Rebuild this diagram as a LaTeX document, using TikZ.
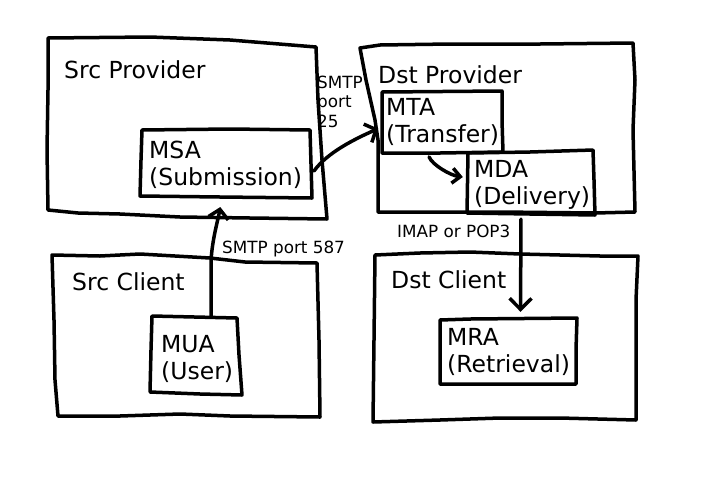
\documentclass[tikz,border=0pt]{standalone}
\usepackage{fontspec}
\setmainfont{DejaVu Sans}
\usetikzlibrary{arrows.meta}
\begin{document}
\begin{tikzpicture}[x=1pt,y=-1pt,
  hand/.style={line width=3.5pt, line join=round, line cap=round},
  area/.style={draw=none, inner sep=0pt, minimum width=#1},
  big/.style={font=\fontsize{23.5}{27}\selectfont, inner sep=0pt, anchor=base west, align=left},
  small/.style={font=\fontsize{16.8}{19.5}\selectfont, inner sep=0pt, anchor=base west, align=left},
  conn/.style={line width=3.5pt, line cap=round, line join=round, -{Straight Barb[length=9pt,width=20pt]}},
]
\useasboundingbox[fill=white] (0,0) rectangle (720,480);

% invisible areas (named) for the boxes
\node[area=277pt, minimum height=180pt] (srcprov) at (186.5,128) {};
\node[area=268pt, minimum height=162pt] (srccli) at (186,336) {};
\node[area=275pt, minimum height=167pt] (dstprov) at (497.5,128.5) {};
\node[area=263pt, minimum height=168pt] (dstcli) at (505.5,337) {};
\node[area=172pt, minimum height=67pt] (msa) at (226,163.5) {};
\node[area=121pt, minimum height=62pt] (mta) at (442.5,122) {};
\node[area=128pt, minimum height=63pt] (mda) at (531,182.5) {};
\node[area=92pt, minimum height=78pt] (mua) at (196,355) {};
\node[area=137pt, minimum height=66pt] (mra) at (508.5,351) {};

% hand-drawn outlines
\draw[hand] (48,38) -- (150,37) -- (230,40) -- (316,47) -- (318,100) -- (322,160) -- (327,219)
  -- (250,218) -- (180,217) -- (120,214) -- (78,213) -- (48,210) -- (47,150) -- (48,90) -- cycle;
\draw[hand] (142,130) -- (230,129) -- (310,130) -- (312,198) -- (220,197) -- (140,196) -- (141,160) -- cycle;
\draw[hand] (52,255) -- (100,256) -- (140,254) -- (210,258) -- (245,262) -- (317,263) -- (319,340)
  -- (320,417) -- (230,416) -- (180,414) -- (120,416) -- (58,416) -- (55,380) -- (54,320) -- cycle;
\draw[hand] (152,316) -- (237,318) -- (239,355) -- (242,395) -- (200,394) -- (150,392) -- (151,350) -- cycle;
\draw[hand] (360,48) -- (380,45) -- (450,44) -- (540,44) -- (633,43) -- (635,80) -- (633,130) -- (635,212)
  -- (595,213) -- (500,212) -- (378,212) -- (378,140) -- (375,120) -- (366,80) -- cycle;
\draw[hand] (382,92) -- (502,91) -- (502,120) -- (503,152) -- (440,153) -- (382,153) -- cycle;
\draw[hand] (468,153) -- (530,152) -- (593,150) -- (594,180) -- (595,215) -- (530,214) -- (467,213) -- cycle;
\draw[hand] (375,255) -- (420,253) -- (470,252) -- (520,254) -- (560,255) -- (600,256) -- (638,256)
  -- (636,300) -- (636,420) -- (560,418) -- (500,418) -- (440,420) -- (373,422) -- (374,340) -- cycle;
\draw[hand] (440,320) -- (470,319) -- (577,318) -- (576,350) -- (576,384) -- (500,384) -- (440,384) -- cycle;

% texts (base anchor = baseline of the last line)
\node[big] (tsrcprov) at (64,78) {Src Provider};
\node[big] (tdstprov) at (378,83) {Dst Provider};
\node[big] (tsrccli) at (72,290) {Src Client};
\node[big] (tdstcli) at (391,288) {Dst Client};
\node[big] (tmsa) at (149,185) {MSA\\(Submission)};
\node[big] (tmta) at (386,142) {MTA\\(Transfer)};
\node[big] (tmda) at (474,204) {MDA\\(Delivery)};
\node[big] (tmua) at (161,379) {MUA\\(User)};
\node[big] (tmra) at (447,372) {MRA\\(Retrieval)};
\node[small] (l25) at (317,127) {SMTP\\port\\25};
\node[small] (l587) at (222,253) {SMTP port 587};
\node[small] (limap) at (397,237) {IMAP or POP3};

% connectors
\draw[conn, shorten >=10pt] ([xshift=15pt]mua.north) -- ++(0,-54)
  .. controls ++(1,-22) and ++(-4,23) .. ([xshift=-4pt]msa.south);
\draw[conn, shorten >=4pt, shorten <=3pt] ([yshift=-10pt]msa.east)
  .. controls ++(15,-21) and ++(-27,12) .. ([yshift=-5pt]mta.west);
\draw[conn, -{Straight Barb[length=8pt,width=15pt]}, shorten >=4pt, shorten <=4pt] ([xshift=-15pt]mta.south)
  .. controls ++(5,12) and ++(-16,-2) .. ([yshift=5pt]mda.west);
\draw[conn, -{Straight Barb[length=11pt,width=22pt]}, shorten >=6pt, shorten <=5pt] ([xshift=-10pt]mda.south)
  -- ([xshift=12pt]mra.north);
\end{tikzpicture}
\end{document}
